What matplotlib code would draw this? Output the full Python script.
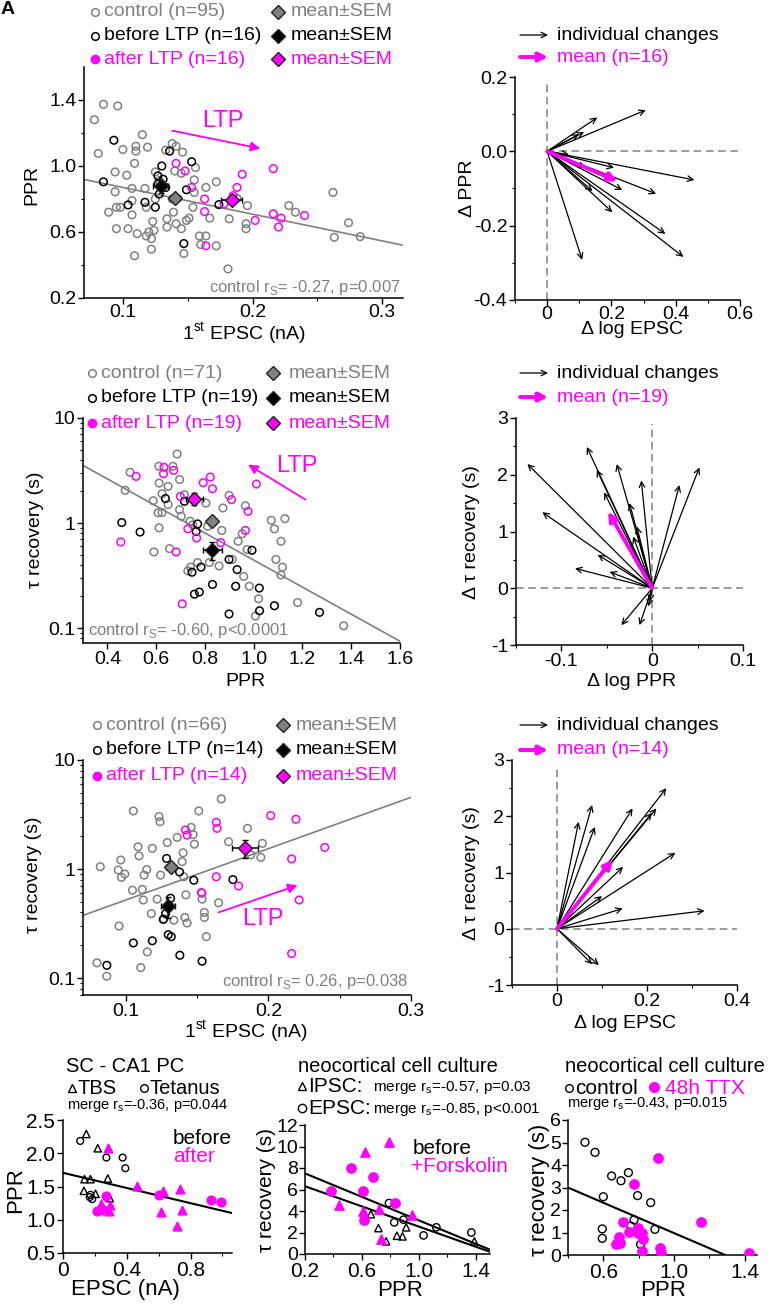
import numpy as np
import matplotlib
matplotlib.use("Agg")
import matplotlib.pyplot as plt
from matplotlib.ticker import FixedLocator, NullFormatter

plt.rcParams["font.family"] = ["Liberation Sans", "DejaVu Sans"]
plt.rcParams["mathtext.fontset"] = "custom"
plt.rcParams["mathtext.rm"] = "Liberation Sans"
plt.rcParams["axes.unicode_minus"] = False

GRAY = "#808080"
MAG = "#ff00ff"
W, H = 770, 1304

# ==== ROW 1: PPR vs 1st EPSC ====
ctl1_x = [0.078, 0.081, 0.085, 0.096, 0.094, 0.094, 0.089, 0.095, 0.095, 0.098,
          0.100, 0.103, 0.107, 0.109, 0.110, 0.110, 0.107, 0.104, 0.115, 0.119,
          0.117, 0.118, 0.120, 0.111, 0.109, 0.118, 0.122, 0.122, 0.124, 0.123,
          0.125, 0.128, 0.133, 0.134, 0.134, 0.138, 0.141, 0.140, 0.145, 0.146,
          0.139, 0.141, 0.145, 0.149, 0.151, 0.147, 0.154, 0.155, 0.156, 0.155,
          0.159, 0.160, 0.164, 0.164, 0.167, 0.172, 0.172, 0.181, 0.182, 0.188,
          0.196, 0.195, 0.138, 0.125, 0.107, 0.195, 0.228, 0.233, 0.262, 0.263,
          0.274, 0.283]
ctl1_y = [1.28, 1.076, 1.374, 1.364, 0.964, 0.844, 0.72, 0.62, 0.75, 0.75,
          1.10, 0.944, 0.864, 1.016, 1.12, 1.09, 0.704, 0.62, 1.19, 1.114,
          0.864, 0.75, 0.60, 0.59, 0.456, 0.576, 0.56, 0.496, 0.61, 0.664,
          0.964, 0.91, 1.096, 0.68, 0.63, 1.136, 1.12, 0.97, 0.956, 1.084,
          0.72, 0.65, 0.62, 0.67, 0.684, 0.47, 0.75, 0.84, 0.99, 0.916,
          0.576, 0.524, 0.576, 0.87, 0.684, 0.904, 0.516, 0.376, 0.68, 0.804,
          0.76, 0.62, 0.80, 0.80, 0.79, 0.65, 0.76, 0.72, 0.84, 0.568,
          0.656, 0.572]
bef1_x = [0.093, 0.085, 0.104, 0.117, 0.125, 0.127, 0.130, 0.131, 0.128, 0.136,
          0.153, 0.149, 0.147, 0.174, 0.127, 0.133]
bef1_y = [1.156, 0.904, 0.764, 0.78, 0.75, 0.94, 1.00, 0.92, 0.83, 1.09,
          1.026, 0.856, 0.53, 0.766, 0.89, 0.87]
aft1_x = [0.141, 0.148, 0.153, 0.163, 0.163, 0.164, 0.188, 0.192, 0.216, 0.202,
          0.216, 0.222, 0.220, 0.240, 0.178, 0.185]
aft1_y = [1.016, 0.97, 0.87, 0.80, 0.724, 0.516, 0.87, 0.95, 0.984, 0.67,
          0.71, 0.684, 0.63, 0.70, 0.77, 0.82]
# mean, sem  (x, y, xerr, yerr) for control / before / after
mean1 = [(0.140, 0.806, 0.004, 0.02), (0.129, 0.876, 0.0057, 0.04), (0.184, 0.794, 0.008, 0.025)]
fit1 = (1.032, -1.62)  # intercept, slope
# individual changes
d_epsc1 = [0.307, 0.156, 0.115, 0.099, 0.458, 0.339, 0.234, 0.208, 0.203, 0.203,
           0.368, 0.424, 0.109, 0.141, 0.120, 0.068]
d_ppr1 = [0.111, 0.091, 0.052, 0.046, -0.077, -0.114, -0.104, -0.044, -0.078, -0.164,
          -0.222, -0.284, -0.292, -0.107, -0.044, -0.009]
dmean1 = (0.219, -0.08)

# ==== ROW 2: tau recovery vs PPR ====
ctl2_x = [0.473, 0.493, 0.588, 0.612, 0.624, 0.649, 0.611, 0.669, 0.686, 0.696,
          0.739, 0.750, 0.612, 0.591, 0.655, 0.608, 0.624, 0.804, 0.741, 0.730,
          0.818, 0.858, 0.869, 0.899, 0.874, 0.936, 0.953, 0.966, 0.959, 0.982,
          1.007, 1.072, 1.085, 1.112, 1.091, 1.118, 1.112, 1.128, 1.180, 1.369,
          0.973, 0.912, 0.696, 0.716, 0.811, 0.770, 1.020, 0.831, 0.703, 0.649]
ctl2_y = [2.05, 3.04, 1.63, 2.40, 1.90, 2.23, 3.47, 3.47, 4.54, 1.34,
          1.04, 0.96, 0.90, 0.53, 0.57, 1.25, 1.26, 1.55, 0.38, 0.35,
          0.42, 0.39, 0.85, 1.83, 1.39, 0.67, 0.79, 1.46, 0.31, 0.25,
          0.13, 1.06, 0.88, 0.67, 0.45, 0.38, 0.32, 1.10, 0.175, 0.105,
          0.56, 0.45, 2.59, 1.86, 0.93, 0.42, 0.19, 1.0, 1.16, 1.50]
bef2_x = [0.459, 0.534, 0.638, 0.716, 0.770, 0.764, 0.747, 0.784, 0.757, 0.777,
          0.831, 0.899, 0.926, 0.932, 0.993, 1.023, 0.899, 1.024, 1.085, 1.270]
bef2_y = [1.01, 0.82, 1.71, 1.61, 0.98, 0.83, 0.34, 0.38, 0.21, 0.22,
          0.26, 0.45, 0.25, 0.36, 0.55, 0.24, 0.136, 0.146, 0.163, 0.141]
aft2_x = [0.455, 0.518, 0.632, 0.630, 0.672, 0.682, 0.699, 0.730, 0.766, 0.793,
          0.822, 0.831, 0.865, 0.909, 0.977, 0.966, 1.011, 0.707]
aft2_y = [0.66, 2.78, 3.39, 2.95, 3.17, 0.53, 1.79, 0.88, 0.72, 2.42,
          2.74, 2.12, 0.65, 1.67, 1.29, 0.85, 2.35, 0.17]
mean2 = [(0.831, 1.04, 0.015, 0.06), (0.831, 0.55, 0.038, 0.11), (0.757, 1.71, 0.034, 0.24)]
fit2 = (0.935, -1.288)  # log10(tau) = a + b * PPR
d_ppr2 = [-0.1375, -0.121, -0.085, -0.060, -0.047, -0.072, -0.061, -0.053, -0.039, -0.012,
          -0.017, 0.030, 0.052, -0.034, -0.014, -0.0044, -0.021, -0.025, -0.003]
d_tau2 = [2.19, 1.34, 0.35, 0.59, 0.29, 2.49, 2.09, 1.69, 2.19, 1.90,
          1.09, 1.82, 2.13, -0.65, -0.65, -0.32, 0.91, 1.50, -0.24]
dmean2 = (-0.0485, 1.35)

# ==== ROW 3: tau recovery vs 1st EPSC ====
ctl3_x = [0.0798, 0.0821, 0.0867, 0.0947, 0.0953, 0.0965, 0.0970, 0.0993, 0.1047, 0.1053,
          0.1086, 0.1093, 0.1105, 0.1116, 0.1123, 0.1128, 0.1147, 0.1179, 0.1186, 0.1233,
          0.1240, 0.1244, 0.1291, 0.1360, 0.1395, 0.1402, 0.1407, 0.1414, 0.1421, 0.1430,
          0.1458, 0.1472, 0.1481, 0.1512, 0.1535, 0.1551, 0.1551, 0.1565, 0.1535, 0.1651,
          0.1670, 0.1721, 0.1853, 0.1877, 0.1947, 0.1958, 0.1151, 0.1267, 0.1337, 0.1220]
ctl3_y = [0.138, 1.05, 0.104, 0.98, 0.30, 1.21, 0.84, 0.90, 0.64, 3.41,
          1.60, 1.32, 0.125, 0.65, 0.52, 0.88, 0.99, 0.39, 1.55, 3.03,
          2.72, 0.88, 1.75, 1.95, 1.17, 1.41, 0.85, 0.36, 0.58, 0.32,
          2.41, 2.07, 1.69, 3.41, 0.53, 0.40, 0.36, 0.24, 0.60, 0.49,
          4.40, 1.78, 2.36, 1.35, 1.28, 1.72, 0.174, 0.35, 0.34, 0.53]
bef3_x = [0.0867, 0.1053, 0.1186, 0.1286, 0.1377, 0.1477, 0.1263, 0.1298, 0.1319, 0.1379,
          0.1535, 0.1751, 0.1314, 0.1279]
bef3_y = [0.131, 0.21, 0.22, 1.25, 0.94, 0.79, 0.345, 0.25, 0.24, 0.162,
          0.143, 0.80, 0.54, 0.39]
aft3_x = [0.1419, 0.1430, 0.1635, 0.1640, 0.1635, 0.1530, 0.1791, 0.2016, 0.2193, 0.2163,
          0.2216, 0.2163, 0.2395]
aft3_y = [2.28, 2.05, 2.68, 2.36, 0.85, 0.61, 0.70, 3.09, 2.86, 1.24,
          0.52, 0.168, 1.58]
mean3 = [(0.1314, 1.04, 0.003, 0.06), (0.1295, 0.457, 0.005, 0.10), (0.1837, 1.55, 0.0093, 0.28)]
fit3 = (-0.755, 4.71)  # log10(tau) = a + b * EPSC
d_epsc3 = [0.048, 0.078, 0.084, 0.168, 0.243, 0.221, 0.211, 0.147, 0.263, 0.100,
           0.146, 0.328, 0.093, 0.078]
d_tau3 = [1.90, 2.20, 1.81, 2.14, 2.50, 2.14, 2.06, 1.10, 1.35, 0.58,
          0.36, 0.32, -0.645, -0.63]
dmean3 = (0.124, 1.23)

# ==== ROW 4: other preparations ====
tbs_bef = ([0.146, 0.218, 0.135, 0.172, 0.281, 0.131, 0.204, 0.293],
           [2.29, 2.075, 1.61, 1.61, 1.62, 1.435, 1.39, 1.325])
tet_bef = ([0.108, 0.272, 0.374, 0.391, 0.172, 0.183, 0.168],
           [2.185, 1.935, 1.935, 1.775, 1.375, 1.31, 1.34])
tbs_aft = ([0.281, 0.239, 0.297, 0.291, 0.464, 0.630, 0.617, 0.734, 0.748, 0.717],
           [2.075, 1.24, 1.225, 1.125, 1.51, 1.425, 1.11, 1.46, 1.14, 0.90])
tet_aft = ([0.214, 0.249, 0.272, 0.599, 0.929, 0.992],
           [1.125, 1.14, 1.36, 1.375, 1.29, 1.265])
fit_sc = (1.706, -0.571)

ipsc_bef = ([0.663, 0.716, 0.770, 0.846, 0.885, 0.911, 1.39],
            [3.7, 2.41, 1.18, 1.70, 1.64, 2.48, 1.18])
epsc_bef = ([0.79, 0.827, 0.892, 1.033, 1.123, 1.369],
            [4.74, 2.94, 3.19, 1.73, 2.48, 2.0])
ipsc_fsk = ([0.789, 0.625, 0.442, 0.611, 0.723, 0.951, 0.735],
            [10.4, 9.5, 4.52, 4.02, 4.21, 3.65, 1.42])
epsc_fsk = ([0.524, 0.381, 0.606, 0.677, 0.834, 0.615],
            [8.0, 5.86, 5.86, 7.2, 4.79, 3.16])
fit_ipsc = (8.59, -5.46)
fit_epsc = (7.24, -4.69)

ttx_ctl = ([0.496, 0.553, 0.647, 0.700, 0.742, 0.600, 0.794, 0.868, 0.774, 0.755,
            0.892, 0.594, 0.594, 0.811],
           [5.01, 4.56, 3.51, 3.30, 3.66, 2.59, 2.64, 2.33, 1.56, 1.29,
            1.14, 1.16, 0.74, 0.47])
ttx_48h = ([0.911, 0.774, 0.709, 1.153, 0.745, 0.794, 0.798, 0.821, 0.823, 0.691,
            0.694, 0.670, 0.817, 0.921, 0.925, 1.423],
           [4.30, 3.16, 1.48, 1.45, 1.01, 1.19, 0.99, 0.96, 0.70, 0.79,
            0.55, 0.47, 0.19, 0.30, 0.07, 0.07])
fit_ttx = (4.345, -3.37)

# ==== FIGURE ====
fig = plt.figure(figsize=(W / 100, H / 100), dpi=100)


def panel(l, t, r, b, fs=14):
    ax = fig.add_axes([l / W, 1 - b / H, (r - l) / W, (b - t) / H])
    ax.patch.set_alpha(0)
    for s in ("top", "right"):
        ax.spines[s].set_visible(False)
    for s in ("left", "bottom"):
        ax.spines[s].set_linewidth(1.1)
    ax.tick_params(which="major", direction="out", length=4, width=1, labelsize=fs, pad=1.5)
    ax.tick_params(which="minor", direction="out", length=2.5, width=0.8)
    return ax


def ticks(ax, xt, xl, yt, yl, xm=(), ym=()):
    ax.set_xticks(xt)
    ax.set_xticklabels(xl)
    ax.set_yticks(yt)
    ax.set_yticklabels(yl)
    ax.xaxis.set_minor_locator(FixedLocator(list(xm)))
    if ym:
        ax.yaxis.set_minor_locator(FixedLocator(list(ym)))


def groups(ax, cx, cy, bx, by, ax_, ay_):
    ax.scatter(cx, cy, s=30, facecolors="none", edgecolors=GRAY, linewidths=1.1, zorder=2)
    ax.scatter(bx, by, s=30, facecolors="none", edgecolors="k", linewidths=1.1, zorder=3)
    ax.scatter(ax_, ay_, s=30, facecolors="none", edgecolors=MAG, linewidths=1.1, zorder=3)


def means(ax, m):
    fills = [GRAY, "k", MAG]
    for (x, y, xe, ye), fc in zip(m, fills):
        ax.errorbar(x, y, xerr=xe, yerr=ye, fmt="D", ms=7, mfc=fc, mec="#222222", mew=1,
                    ecolor="k", elinewidth=1.1, capsize=2.5, zorder=5)


def arrows(ax, dx, dy, dm):
    for x, y in zip(dx, dy):
        ax.annotate("", xy=(x, y), xytext=(0, 0),
                    arrowprops=dict(arrowstyle="->", color="k", lw=0.9,
                                    shrinkA=0, shrinkB=0, mutation_scale=10))
    ax.annotate("", xy=dm, xytext=(0, 0),
                arrowprops=dict(arrowstyle="-|>", color=MAG, lw=2.8,
                                shrinkA=0, shrinkB=0, mutation_scale=13))


def ltp(ax, tail, head, txt):
    ax.annotate("", xy=head, xytext=tail,
                arrowprops=dict(arrowstyle="-|>", color=MAG, lw=1.3,
                                shrinkA=0, shrinkB=0, mutation_scale=14))
    ax.text(txt[0], txt[1], "LTP", color=MAG, fontsize=17, ha="center", va="center")


dash = dict(color=GRAY, lw=1.1, ls=(0, (5, 3)), zorder=1)

# --- A1
a1 = panel(84, 67, 403, 298)
a1.set_xlim(0.07, 0.316)
a1.set_ylim(0.2, 1.6)
ticks(a1, [0.1, 0.2, 0.3], ["0.1", "0.2", "0.3"], [0.2, 0.6, 1.0, 1.4],
      ["0.2", "0.6", "1.0", "1.4"], xm=[0.15, 0.25], ym=[0.4, 0.8, 1.2])
a1.tick_params(axis="x", pad=0.5)
xs = np.linspace(0.07, 0.316, 50)
a1.plot(xs, fit1[0] + fit1[1] * xs, color=GRAY, lw=1.2, zorder=1)
groups(a1, ctl1_x, ctl1_y, bef1_x, bef1_y, aft1_x, aft1_y)
means(a1, mean1)
ltp(a1, (0.138, 1.214), (0.206, 1.106), (0.177, 1.27))
a1.text(0.314, 0.235, r"control r$_{\rm S}$= -0.27, p=0.007", color=GRAY, fontsize=12, ha="right")

# --- B1
b1 = panel(515, 77, 740, 300)
b1.set_xlim(-0.1, 0.6)
b1.set_ylim(-0.4, 0.2)
ticks(b1, [0, 0.2, 0.4, 0.6], ["0", "0.2", "0.4", "0.6"], [-0.4, -0.2, 0, 0.2],
      ["-0.4", "-0.2", "0.0", "0.2"], xm=[-0.1, 0.1, 0.3, 0.5], ym=[-0.3, -0.1, 0.1])
b1.tick_params(axis="x", pad=0.5)
b1.vlines(0, -0.4, 0.19, **dash)
b1.hlines(0, 0, 0.6, **dash)
arrows(b1, d_epsc1, d_ppr1, dmean1)

# --- A2
a2 = panel(83, 418, 400, 643)
a2.set_yscale("log")
a2.set_xlim(0.3, 1.6)
a2.set_ylim(0.072, 10)
ticks(a2, [0.4, 0.6, 0.8, 1.0, 1.2, 1.4, 1.6], ["0.4", "0.6", "0.8", "1.0", "1.2", "1.4", "1.6"],
      [0.1, 1, 10], ["0.1", "1", "10"])
a2.yaxis.set_minor_formatter(NullFormatter())
xs = np.linspace(0.3, 1.6, 50)
a2.plot(xs, 10 ** (fit2[0] + fit2[1] * xs), color=GRAY, lw=1.2, zorder=1)
groups(a2, ctl2_x, ctl2_y, bef2_x, bef2_y, aft2_x, aft2_y)
means(a2, mean2)
ltp(a2, (1.212, 1.67), (0.977, 3.6), (1.176, 3.47))
a2.text(0.32, 0.085, r"control r$_{\rm S}$= -0.60, p<0.0001", color=GRAY, fontsize=12, ha="left")

# --- B2
b2 = panel(516, 418, 743, 645)
b2.set_xlim(-0.15, 0.1)
b2.set_ylim(-1, 3)
ticks(b2, [-0.1, 0, 0.1], ["-0.1", "0", "0.1"], [-1, 0, 1, 2, 3],
      ["-1", "0", "1", "2", "3"], xm=[-0.15, -0.05, 0.05], ym=[-0.5, 0.5, 1.5, 2.5])
b2.vlines(0, -1, 2.9, **dash)
b2.hlines(0, -0.15, 0.1, **dash)
arrows(b2, d_ppr2, d_tau2, dmean2)

# --- A3
a3 = panel(83, 760, 411, 995)
a3.set_yscale("log")
a3.set_xlim(0.07, 0.3)
a3.set_ylim(0.07, 10)
ticks(a3, [0.1, 0.2, 0.3], ["0.1", "0.2", "0.3"], [0.1, 1, 10], ["0.1", "1", "10"],
      xm=[0.15, 0.25])
a3.yaxis.set_minor_formatter(NullFormatter())
xs = np.linspace(0.07, 0.3, 50)
a3.plot(xs, 10 ** (fit3[0] + fit3[1] * xs), color=GRAY, lw=1.2, zorder=1)
groups(a3, ctl3_x, ctl3_y, bef3_x, bef3_y, aft3_x, aft3_y)
means(a3, mean3)
ltp(a3, (0.165, 0.40), (0.2205, 0.71), (0.196, 0.347))
a3.text(0.298, 0.085, r"control r$_{\rm S}$= 0.26, p=0.038", color=GRAY, fontsize=12, ha="right")

# --- B3
b3 = panel(512, 760, 737, 985)
b3.set_xlim(-0.1, 0.4)
b3.set_ylim(-1, 3)
ticks(b3, [0, 0.2, 0.4], ["0", "0.2", "0.4"], [-1, 0, 1, 2, 3],
      ["-1", "0", "1", "2", "3"], xm=[-0.1, 0.1, 0.3], ym=[-0.5, 0.5, 1.5, 2.5])
b3.vlines(0, -1, 2.9, **dash)
b3.hlines(0, -0.1, 0.4, **dash)
arrows(b3, d_epsc3, d_tau3, dmean3)

# --- C1 (SC - CA1 PC)
c1 = panel(63, 1120, 232, 1253, fs=15)
c1.set_xlim(0, 1.06)
c1.set_ylim(0.5, 2.5)
ticks(c1, [0, 0.4, 0.8], ["0", "0.4", "0.8"], [0.5, 1.0, 1.5, 2.0, 2.5],
      ["0.5", "1.0", "1.5", "2.0", "2.5"], xm=[0.2, 0.6, 1.0])
xs = np.linspace(0, 1.06, 20)
c1.plot(xs, fit_sc[0] + fit_sc[1] * xs, color="k", lw=1.5, zorder=1)
c1.scatter(*tbs_bef, marker="^", s=28, facecolors="none", edgecolors="k", linewidths=1, zorder=3)
c1.scatter(*tet_bef, marker="o", s=24, facecolors="none", edgecolors="k", linewidths=1, zorder=3)
c1.scatter(*tbs_aft, marker="^", s=40, color=MAG, zorder=3)
c1.scatter(*tet_aft, marker="o", s=40, color=MAG, zorder=3)

# --- C2 (cell culture, forskolin)
c2 = panel(305, 1125, 490, 1254, fs=15)
c2.tick_params(axis="y", labelsize=14, pad=1)
c2.set_xlim(0.2, 1.5)
c2.set_ylim(0, 12)
ticks(c2, [0.2, 0.6, 1.0, 1.4], ["0.2", "0.6", "1.0", "1.4"], [0, 2, 4, 6, 8, 10, 12],
      ["0", "2", "4", "6", "8", "10", "12"], xm=[0.4, 0.8, 1.2])
xs = np.linspace(0.2, 1.5, 20)
c2.plot(xs, fit_ipsc[0] + fit_ipsc[1] * xs, color="k", lw=1.5, zorder=1)
c2.plot(xs, fit_epsc[0] + fit_epsc[1] * xs, color="k", lw=1.5, zorder=1)
c2.scatter(*ipsc_bef, marker="^", s=28, facecolors="none", edgecolors="k", linewidths=1, zorder=3)
c2.scatter(*epsc_bef, marker="o", s=28, facecolors="none", edgecolors="k", linewidths=1, zorder=3)
c2.scatter(*ipsc_fsk, marker="^", s=45, color=MAG, zorder=3)
c2.scatter(*epsc_fsk, marker="o", s=45, color=MAG, zorder=3)

# --- C3 (cell culture, TTX)
c3 = panel(568, 1120, 757, 1255, fs=15)
c3.tick_params(axis="y", labelsize=14, pad=1)
c3.set_xlim(0.4, 1.47)
c3.set_ylim(0, 6)
ticks(c3, [0.6, 1.0, 1.4], ["0.6", "1.0", "1.4"], [0, 1, 2, 3, 4, 5, 6],
      ["0", "1", "2", "3", "4", "5", "6"], xm=[0.4, 0.8, 1.2])
xs = np.linspace(0.4, -fit_ttx[0] / fit_ttx[1], 20)
c3.plot(xs, fit_ttx[0] + fit_ttx[1] * xs, color="k", lw=1.5, zorder=1)
c3.scatter(*ttx_ctl, marker="o", s=32, facecolors="none", edgecolors="k", linewidths=1, zorder=3)
c3.scatter(*ttx_48h, marker="o", s=45, color=MAG, zorder=3)

# ==== OVERLAY: labels & legends in pixel coordinates ====
lay = fig.add_axes([0, 0, 1, 1])
lay.set_xlim(0, W)
lay.set_ylim(H, 0)
lay.axis("off")
lay.patch.set_alpha(0)


def t(x, y, s, rot=0, fs=14, c="k", ha="center", **kw):
    lay.text(x, y, s, rotation=rot, fontsize=fs, color=c, ha=ha, va="center", **kw)


# axis labels rows 1-3
epsc_lbl = r"1$^{\rm st}$ EPSC (nA)"
t(244, 334, epsc_lbl)
t(32, 185, "PPR", rot=90)
t(632, 330, "Δ log EPSC")
t(468, 188, "Δ PPR", rot=90)
t(245, 682, "PPR")
t(35, 530, "τ recovery (s)", rot=90)
t(632, 682, "Δ log PPR")
t(472, 532, "Δ τ recovery (s)", rot=90)
t(246, 1032, epsc_lbl)
t(33, 875, "τ recovery (s)", rot=90)
t(625, 1024, "Δ log EPSC")
t(472, 873, "Δ τ recovery (s)", rot=90)

# scatter legends rows 1-3
leg_rows = [((95, 104, 278, 291), (12, 36, 59), ("95", "16", "16")),
            ((92, 101, 273, 289), (373, 398, 423), ("71", "19", "19")),
            ((97, 106, 283, 296), (725, 750, 776), ("66", "14", "14"))]
for (mx, tx, dx, dtx), ys, ns in leg_rows:
    lay.plot(mx, ys[0], "o", ms=5.5, mfc="none", mec=GRAY, mew=1.1)
    lay.plot(mx, ys[1], "o", ms=5.5, mfc="none", mec="k", mew=1.1)
    lay.plot(mx, ys[2], "o", ms=6, mfc=MAG, mec=MAG)
    t(tx, ys[0], f"control (n={ns[0]})", c=GRAY, ha="left")
    t(tx, ys[1], f"before LTP (n={ns[1]})", ha="left")
    t(tx, ys[2], f"after LTP (n={ns[2]})", c=MAG, ha="left")
    for y, fc, c in zip(ys, [GRAY, "k", MAG], [GRAY, "k", MAG]):
        lay.plot(dx, y, "D", ms=7, mfc=fc, mec="#222222", mew=1)
        t(dtx, y, "mean±SEM", c=c, ha="left")

# arrow legends rows 1-3
for ys, n in [((35, 57), "16"), ((373, 397), "19"), ((725, 750), "14")]:
    lay.annotate("", xy=(548, ys[0]), xytext=(520, ys[0]),
                 arrowprops=dict(arrowstyle="->", color="k", lw=0.9, shrinkA=0, shrinkB=0,
                                 mutation_scale=10))
    lay.annotate("", xy=(548, ys[1]), xytext=(520, ys[1]),
                 arrowprops=dict(arrowstyle="-|>", color=MAG, lw=2.8, shrinkA=0, shrinkB=0,
                                 mutation_scale=13))
    t(557, ys[0], "individual changes", ha="left")
    t(557, ys[1], f"mean (n={n})", c=MAG, ha="left")

t(1, 9, "A", fs=14, ha="left", fontweight="bold")

# row 4 texts
t(125, 1067, "SC - CA1 PC", fs=14.5)
lay.plot(72, 1088, "^", ms=6, mfc="none", mec="k", mew=1)
t(78, 1088, "TBS", fs=14.5, ha="left")
lay.plot(144, 1088, "o", ms=5.5, mfc="none", mec="k", mew=1)
t(149, 1088, "Tetanus", fs=14.5, ha="left")
t(67, 1105, r"merge r$_{\rm s}$=-0.36, p=0.044", fs=10.5, ha="left")
t(173, 1138, "before", fs=15, ha="left")
t(173, 1157, "after", fs=15, c=MAG, ha="left")
t(16, 1190, "PPR", rot=90, fs=16)
t(125, 1290, "EPSC (nA)", fs=16)

t(298, 1067, "neocortical cell culture", fs=14.5, ha="left")
lay.plot(302, 1086, "^", ms=6, mfc="none", mec="k", mew=1)
t(308, 1086, "IPSC:", fs=15, ha="left")
t(373, 1088, r"merge r$_{\rm s}$=-0.57, p=0.03", fs=11, ha="left")
lay.plot(302, 1108, "o", ms=6, mfc="none", mec="k", mew=1)
t(308, 1108, "EPSC:", fs=15, ha="left")
t(373, 1110, r"merge r$_{\rm s}$=-0.85, p<0.001", fs=11, ha="left")
t(413, 1149, "before", fs=15, ha="left")
t(411, 1167, "+Forskolin", fs=15, c=MAG, ha="left")
t(267, 1190, "τ recovery (s)", rot=90, fs=15)
t(400, 1290, "PPR", fs=16)

t(565, 1067, "neocortical cell culture", fs=14.5, ha="left")
lay.plot(569, 1088, "o", ms=5.5, mfc="none", mec="k", mew=1)
t(575, 1088, "control", fs=15, ha="left")
lay.plot(654, 1087, "o", ms=7, mfc=MAG, mec=MAG)
t(665, 1088, "48h TTX", fs=15, c=MAG, ha="left")
t(567, 1104, r"merge r$_{\rm s}$=-0.43, p=0.015", fs=10.5, ha="left")
t(540, 1190, "τ recovery (s)", rot=90, fs=16)
t(663, 1290, "PPR", fs=16)

fig.savefig("out.png", dpi=100)
